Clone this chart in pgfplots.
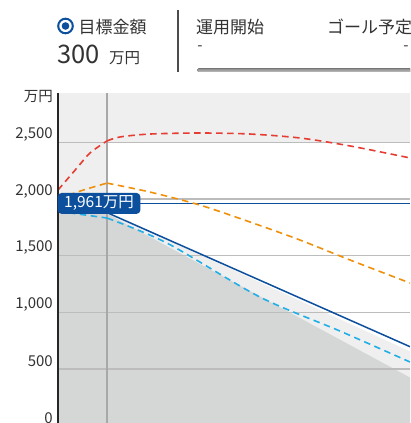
\documentclass[border=0pt]{standalone}
\usepackage{pgfplots}
\pgfplotsset{compat=1.18}
\usepackage{fontspec}
\setmainfont{Noto Sans CJK JP}
\definecolor{blueC}{HTML}{0C4F9C}
\definecolor{redC}{HTML}{E63C32}
\definecolor{orangeC}{HTML}{F0900A}
\definecolor{cyanC}{HTML}{22AEE6}
\definecolor{dgray}{HTML}{D5D6D6}
\definecolor{lgray}{HTML}{EFEFEF}
\definecolor{gridC}{HTML}{BCBCBC}
\definecolor{vC}{HTML}{A8A8A8}
\definecolor{txt}{HTML}{333333}
\begin{document}
\begin{tikzpicture}
\useasboundingbox (0,0) rectangle (410pt,423pt);
\clip (0,0) rectangle (410pt,423pt);
\fill[white] (0,0) rectangle (410pt,423pt);
% header
\draw[blueC, line width=2pt] (65.5pt,397pt) circle (7.3pt);
\fill[blueC] (65.5pt,397pt) circle (3.8pt);
\node[anchor=west, inner sep=0pt, font=\fontsize{17}{17}\selectfont, text=txt] at (78.5pt,396pt) {目標金額};
\node[anchor=base west, inner sep=0pt, font=\fontsize{25.5}{25.5}\selectfont, text=txt] at (57pt,359pt) {300};
\node[anchor=base west, inner sep=0pt, font=\fontsize{15.5}{15.5}\selectfont, text=txt] at (109pt,359pt) {万円};
\draw[black!70, line width=1.3pt] (178pt,413pt) -- (178pt,351pt);
\node[anchor=west, inner sep=0pt, font=\fontsize{17}{17}\selectfont, text=txt] at (196pt,396pt) {運用開始};
\node[anchor=west, inner sep=0pt, font=\fontsize{17}{17}\selectfont, text=txt] at (327pt,396pt) {ゴール予定};
\node[inner sep=0pt, font=\fontsize{15}{15}\selectfont, text=txt] at (200pt,375pt) {-};
\node[inner sep=0pt, font=\fontsize{15}{15}\selectfont, text=txt] at (406pt,375pt) {-};
\fill[top color=black!45, bottom color=black!25, rounded corners=1.7pt] (197pt,351pt) rectangle (420pt,354.5pt);
\node[anchor=east, inner sep=0pt, font=\fontsize{14.5}{14.5}\selectfont, text=txt] at (53pt,326pt) {万円};
\begin{axis}[
  at={(58pt,-2.7pt)}, anchor=south west,
  scale only axis, width=352pt, height=332.7pt,
  xmin=0, xmax=7.184, ymin=0, ymax=2935,
  clip=false,
  axis line style={draw=none},
  xtick=\empty,
  ytick={0,500,1000,1500,2000,2500},
  ytick style={draw=none},
  yticklabel style={font=\fontsize{15}{15}\selectfont, text=txt, yshift=8pt, anchor=east, inner sep=0pt, xshift=-5pt},
  /pgf/number format/1000 sep={,},
  /pgf/number format/assume math mode=true,
]
% backgrounds
\fill[lgray] (axis cs:0,0) rectangle (axis cs:7.184,2935);
\fill[white] (axis cs:1,0) rectangle (axis cs:7.184,2500);
\addplot[fill=lgray, draw=none] coordinates {(1,1885) (7.184,655) (7.184,0) (1,0)} -- cycle;
\addplot[fill=dgray, draw=none] coordinates {(0,1890) (1,1870) (7.184,425) (7.184,0) (0,0)} -- cycle;
% grid
\foreach \v in {500,1000,1500,2000,2500} {
  \edef\tmp{\noexpand\draw[gridC, line width=1.5pt] (axis cs:0,\v) -- (axis cs:7.184,\v);}\tmp
}
\draw[vC, line width=1.5pt] (axis cs:1,0) -- (axis cs:1,2935);
% target line
\addplot[blueC, line width=1.5pt] coordinates {(0,1961) (7.184,1961)};
% curves
\addplot[redC, line width=1.6pt, dash pattern=on 6.5pt off 4.5pt, smooth] coordinates {(0,2079) (0.388,2274) (0.653,2406) (1,2512)};
\addplot[redC, line width=1.6pt, dash pattern=on 6.5pt off 4.5pt, smooth] coordinates {(1,2512) (1.265,2547) (1.878,2573) (2.898,2582) (3.918,2573) (4.939,2538) (5.959,2468) (7.184,2362)};
\addplot[orangeC, line width=1.6pt, dash pattern=on 6.5pt off 4.5pt, smooth] coordinates {(0,2000) (0.51,2078) (1,2140)};
\addplot[orangeC, line width=1.6pt, dash pattern=on 6.5pt off 4.5pt, smooth] coordinates {(1,2140) (1.878,2061) (2.898,1946) (3.918,1797) (4.939,1638) (5.959,1462) (7.184,1259)};
\addplot[cyanC, line width=1.6pt, dash pattern=on 6.5pt off 4.5pt] coordinates {(0,1892) (1,1832)};
\addplot[cyanC, line width=1.6pt, dash pattern=on 6.5pt off 4.5pt, smooth] coordinates {(1,1832) (2.224,1611) (4.122,1135) (5.755,835) (7.184,562)};
\addplot[blueC, line width=1.5pt] coordinates {(0,1961) (1,1880) (7.184,697)};
% axis line
\draw[black!85, line width=1.5pt] (axis cs:0,0) -- (axis cs:0,2935);
% label
\node[fill=blueC, text=white, rounded corners=4pt, anchor=west, minimum height=21pt, inner xsep=6.5pt, inner ysep=0pt, font=\fontsize{15.5}{15.5}\selectfont] at (axis cs:-0.01,1961) {1,961万円};
\end{axis}
\end{tikzpicture}
\end{document}
